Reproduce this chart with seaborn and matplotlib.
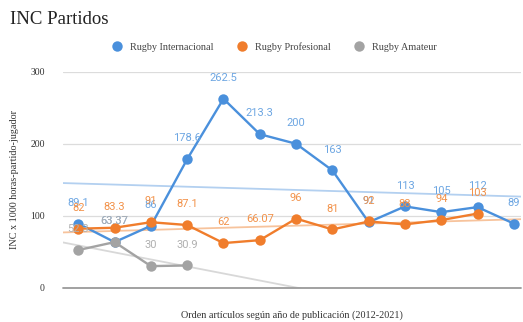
import numpy as np
import pandas as pd
import matplotlib
matplotlib.use("Agg")
import matplotlib.pyplot as plt
import seaborn as sns

# Series values, in article order (2012-2021)
internacional = [89.1, 63.37, 86, 178.6, 262.5, 213.3, 200, 163, 91, 113, 105, 112, 89]
profesional = [82, 83.3, 91, 87.1, 62, 66.07, 96, 81, 92, 88, 94, 103]
amateur = [52.3, 63.37, 30, 30.9]

series_names = ["Rugby Internacional", "Rugby Profesional", "Rugby Amateur"]
series_values = [internacional, profesional, amateur]
y_ticks = [0, 100, 200, 300]

colors = ["#4a90dc", "#f07d2c", "#a3a3a3"]
trend_colors = ["#b3d0f0", "#f7c39c", "#d8d8d8"]
label_colors = ["#6da6e2", "#f2924a", "#b0b0b0"]

frames = []
for name, vals in zip(series_names, series_values):
    frames.append(pd.DataFrame({"orden": np.arange(len(vals)), "inc": vals, "serie": name}))
df = pd.concat(frames, ignore_index=True)

sns.set_theme(style="white")
plt.rcParams["font.family"] = ["Liberation Serif", "DejaVu Serif"]

fig = plt.figure(figsize=(5.23, 3.22), dpi=100)
ax = fig.add_axes([0.1205, 0.1065, 0.876, 0.6705])

xlim = (-0.42, 12.2)
xs_fit = np.array(xlim)

# Linear trend lines for each series
for name, tcol in zip(series_names, trend_colors):
    sub = df[df["serie"] == name]
    slope, icpt = np.polyfit(sub["orden"], sub["inc"], 1)
    ax.plot(xs_fit, icpt + slope * xs_fit, color=tcol, lw=1.3, zorder=1)

sns.lineplot(data=df, x="orden", y="inc", hue="serie", hue_order=series_names,
             palette=colors, marker="o", markersize=7.5, markeredgewidth=0,
             linewidth=1.7, ax=ax, legend=False, zorder=3)

# Value labels above each point
for name, lcol in zip(series_names, label_colors):
    sub = df[df["serie"] == name]
    for x, y in zip(sub["orden"], sub["inc"]):
        ax.annotate(f"{y:g}", (x, y), xytext=(0, 15), textcoords="offset points",
                    ha="center", va="center", fontsize=8, color=lcol,
                    family=["Roboto", "DejaVu Sans"], zorder=4)

ax.set_xlim(*xlim)
ax.set_ylim(0, 300)
ax.set_yticks(y_ticks)
ax.set_yticklabels([str(t) for t in y_ticks], fontsize=7, color="#333333")
ax.set_xticks([])
ax.tick_params(axis="y", length=0, pad=13)
for sp in ax.spines.values():
    sp.set_visible(False)
for t in y_ticks[1:]:
    ax.axhline(t, color="#dcdcdc", lw=0.9, zorder=0)
ax.axhline(0, color="#9a9a9a", lw=1.3, zorder=2, clip_on=False)

ax.set_xlabel("Orden artículos según año de publicación (2012-2021)", fontsize=7.3,
              color="#333333", labelpad=16)
ax.set_ylabel("INC x 1000 horas-partido-jugador", fontsize=7.3, color="#333333", labelpad=8)

fig.text(0.019, 0.94, "INC Partidos", fontsize=13.5, color="#222222", va="center", ha="left")

handles = [plt.Line2D([], [], marker="o", linestyle="", markersize=7.5, color=c,
                      markeredgewidth=0) for c in colors]
fig.legend(handles, series_names, loc="center", bbox_to_anchor=(0.52, 0.854), ncol=3,
           frameon=False, fontsize=7.3, handletextpad=0.3, columnspacing=1.8,
           labelcolor="#444444")

fig.savefig("out.png", dpi=100)
